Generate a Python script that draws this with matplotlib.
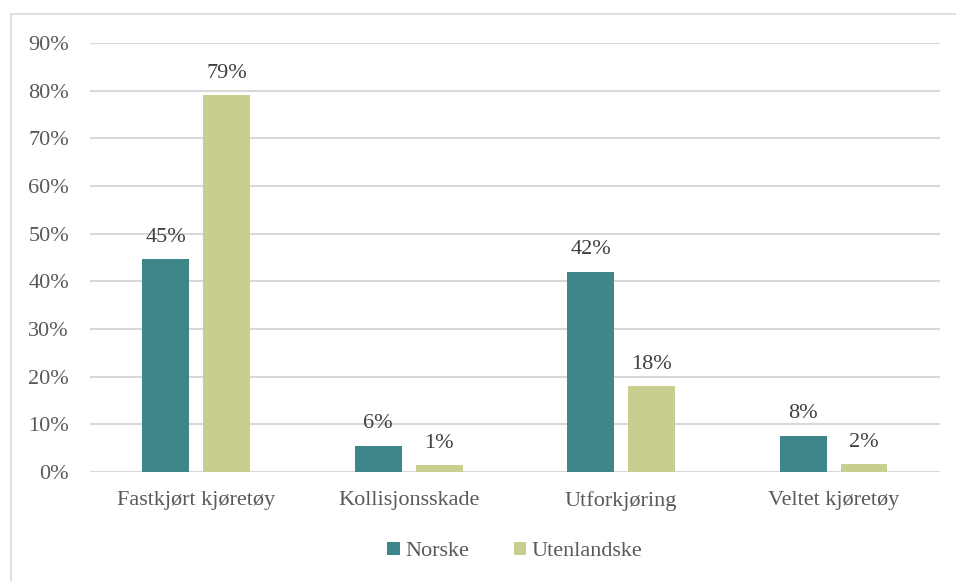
import numpy as np
import matplotlib.pyplot as plt
from matplotlib.patches import Rectangle
from matplotlib.ticker import PercentFormatter

# Share of incidents by type, Norwegian vs. foreign vehicles
categories = ['Fastkjørt kjøretøy', 'Kollisjonsskade', 'Utforkjøring', 'Veltet kjøretøy']
norske = [44.7, 5.5, 42.0, 7.6]
utenlandske = [79.0, 1.4, 18.0, 1.6]
series_names = ['Norske', 'Utenlandske']

plt.rcParams['font.family'] = ['Liberation Serif', 'DejaVu Serif']
text_color = '#595959'
grid_color = '#D9D9D9'
colors = ['#3F868A', '#C8CE8E']

fig = plt.figure(figsize=(9.56, 5.81), dpi=100)
ax = fig.add_axes([0.094, 0.1876, 0.889, 0.7385])

x = np.arange(len(categories))
width = 0.221
offset = (width + 0.066) / 2

for vals, name, color, sign in zip([norske, utenlandske], series_names, colors, [-1, 1]):
    bars = ax.bar(x + sign * offset, vals, width, color=color, label=name, zorder=3)
    for b, v in zip(bars, vals):
        ax.text(b.get_x() + b.get_width() / 2, v + 2.6, f'{v:.0f}%',
                ha='center', va='bottom', fontsize=16, color='#404040')

ax.set_xlim(-0.5, len(categories) - 0.5)
ax.set_ylim(0, 90)
ax.set_yticks(np.arange(0, 91, 10))
ax.yaxis.set_major_formatter(PercentFormatter(decimals=0))
ax.set_xticks(x)
ax.set_xticklabels(categories)
ax.tick_params(axis='both', length=0, labelsize=16, labelcolor=text_color)
ax.tick_params(axis='y', pad=15)
ax.tick_params(axis='x', pad=14)
ax.grid(axis='y', color=grid_color, linewidth=1.5, zorder=0)
for s in ax.spines.values():
    s.set_visible(False)

ax.legend(loc='center', bbox_to_anchor=(0.5, -0.185), ncol=2, frameon=False,
          fontsize=16, labelcolor=text_color, handlelength=0.55, handleheight=0.55,
          handletextpad=0.25, columnspacing=2.0)

# light frame around the chart area
fig.patches.append(Rectangle((11 / 956, -0.1), 1.2, 1 - 14 / 581 + 0.1,
                             transform=fig.transFigure, fill=False,
                             edgecolor='#D9D9D9', linewidth=1.2))

fig.savefig('out.png', dpi=100)
